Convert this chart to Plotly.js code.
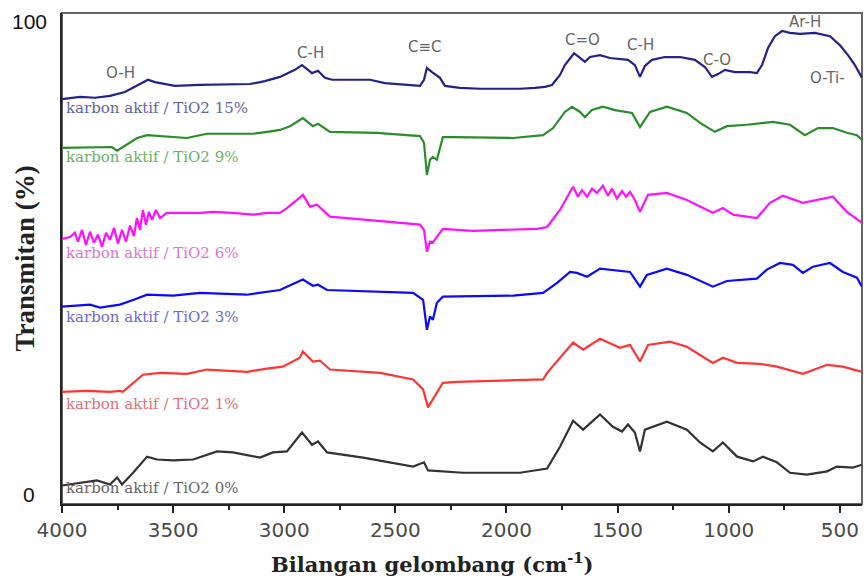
<!DOCTYPE html>
<html>
<head>
<meta charset="utf-8">
<script src="https://cdn.plot.ly/plotly-3.0.1.min.js"></script>
<style>html,body{margin:0;padding:0;background:#fff;}#chart{width:864px;height:581px;}</style>
</head>
<body>
<div id="chart"></div>
<script>
// Wavenumbers (cm-1) and stacked transmittance values
const wn15 = [4000,3919,3852,3784,3717,3649,3613,3582,3537,3492,3379,3244,3154,3087,3019,2952,2920,2893,2875,2848,2817,2785,2614,2547,2389,2371,2358,2335,2299,2277,2209,2119,1939,1872,1827,1795,1759,1737,1714,1696,1669,1647,1624,1579,1534,1489,1453,1422,1399,1377,1345,1287,1219,1152,1107,1075,1048,1017,972,904,873,850,823,792,760,724,679,612,544,499,463,432,400];
const t15 = [83.5,84.0,83.8,84.2,85.0,86.7,87.6,87.1,86.7,86.3,86.5,86.7,86.7,87.3,88.2,89.7,90.7,89.7,89.0,89.5,88.0,87.6,87.6,86.9,86.3,87.6,90.1,89.2,88.0,86.3,85.9,85.7,85.7,85.9,86.1,86.5,88.6,90.7,92.2,93.2,92.2,91.4,92.4,92.8,92.2,92.0,91.8,90.7,88.2,90.5,91.8,92.4,92.4,91.8,90.3,88.2,88.8,89.7,89.2,89.2,89.0,90.7,94.3,96.8,97.9,97.5,97.3,97.5,96.8,94.9,92.8,90.7,88.0];

const wn9 = [4000,3829,3775,3752,3725,3662,3617,3559,3438,3348,3141,3078,3019,2974,2916,2871,2848,2794,2583,2389,2371,2358,2344,2331,2313,2286,2241,1970,1835,1790,1737,1705,1669,1647,1615,1566,1512,1435,1399,1354,1278,1188,1129,1062,1008,918,801,724,657,598,531,468,423,400];
const t9 = [73.2,73.4,73.4,72.6,73.4,75.3,75.9,75.7,75.3,76.2,76.2,76.6,77.0,77.8,79.5,77.8,78.3,76.6,76.4,75.7,74.3,67.5,70.7,71.3,70.7,75.5,75.5,75.3,75.9,77.4,80.8,81.9,80.8,79.7,81.2,81.9,81.2,80.6,77.6,80.8,81.9,80.6,78.5,76.6,77.8,78.1,78.7,78.1,75.9,77.4,77.4,76.4,75.9,74.9];

const wn6 = [4000,3964,3942,3928,3910,3892,3874,3856,3838,3820,3802,3784,3766,3748,3730,3712,3694,3676,3663,3649,3636,3622,3609,3595,3577,3559,3528,3379,3321,3231,3141,3078,3019,2988,2930,2916,2884,2853,2794,2389,2371,2358,2344,2331,2313,2286,2150,1862,1817,1759,1714,1700,1678,1660,1637,1615,1593,1566,1543,1525,1503,1480,1462,1444,1422,1399,1363,1278,1188,1071,1026,980,873,814,756,666,531,468,400];
const t6 = [54.0,54.4,55.3,53.4,55.9,52.7,55.5,53.2,54.9,52.3,55.3,53.8,56.3,53.0,55.9,53.4,56.8,54.6,58.4,55.9,60.1,57.0,59.7,58.0,60.1,58.4,59.5,59.5,59.7,59.5,59.1,59.5,59.5,60.5,62.7,63.3,60.8,61.2,58.7,57.0,55.9,51.3,53.4,53.2,54.4,56.1,55.7,56.1,56.5,60.1,63.9,65.0,62.9,64.3,62.9,64.6,63.7,65.2,63.1,64.6,62.5,64.1,62.9,63.9,62.2,59.7,63.3,63.7,62.2,59.5,60.5,59.1,58.4,61.6,63.1,61.6,62.9,59.7,57.4];

const wn3 = [4000,3874,3829,3740,3680,3617,3500,3379,3168,3078,3019,2988,2916,2871,2848,2807,2420,2375,2358,2344,2331,2313,2286,1970,1835,1772,1714,1683,1637,1579,1444,1399,1368,1278,1188,1071,1008,873,828,769,711,666,621,544,486,423,400];
const t3 = [39.7,40.1,39.5,40.1,41.1,42.2,42.0,42.6,42.2,42.8,43.2,43.9,45.4,44.1,44.3,43.2,42.6,41.1,34.8,37.6,36.9,40.5,41.8,42.0,42.6,44.7,47.0,46.8,46.0,47.7,47.0,43.9,46.4,47.7,46.4,43.9,45.1,45.6,47.5,48.9,48.5,46.8,48.1,48.9,47.0,45.8,43.9];

const wn1 = [4000,3891,3784,3740,3726,3636,3559,3438,3348,3168,3078,3006,2930,2916,2871,2840,2794,2569,2420,2375,2353,2313,2286,2223,1970,1835,1817,1759,1700,1655,1579,1489,1444,1399,1363,1264,1188,1071,1026,962,860,783,666,557,486,400];
const t1 = [21.7,21.9,21.7,21.9,21.7,25.3,25.7,25.5,26.4,25.9,26.6,27.0,28.9,30.2,28.1,28.3,26.4,25.7,24.3,22.2,18.4,21.5,23.6,23.8,24.1,24.3,25.7,28.9,32.1,30.6,32.9,31.0,31.6,28.1,31.6,32.3,31.2,27.8,28.9,27.8,27.6,27.0,25.5,27.4,27.0,25.9];

const wn0 = [4000,3843,3784,3752,3730,3680,3617,3572,3500,3410,3302,3231,3109,3051,2988,2930,2920,2875,2848,2807,2645,2420,2371,2353,2196,1939,1817,1759,1700,1655,1579,1521,1480,1453,1422,1399,1377,1278,1188,1129,1071,1026,962,890,846,783,724,648,557,513,441,400];
const t0 = [1.9,3.0,2.1,3.6,2.1,4.6,8.0,7.4,7.2,7.4,9.1,8.9,7.8,8.9,9.1,12.7,13.1,10.5,11.2,8.9,7.8,5.9,6.8,5.1,4.6,4.6,5.5,10.1,15.6,13.7,16.9,14.3,13.3,14.8,13.1,9.1,13.7,15.4,13.7,11.0,9.1,11.0,8.0,7.0,8.0,6.8,4.6,4.2,4.9,5.9,5.7,6.3];

const seriesNames = ["karbon aktif / TiO2 15%","karbon aktif / TiO2 9%","karbon aktif / TiO2 6%","karbon aktif / TiO2 3%","karbon aktif / TiO2 1%","karbon aktif / TiO2 0%"];
const labelY = [81.6, 71.3, 51.1, 37.6, 19.2, 1.3];
const lineColors = ["#22228c","#2a8c2a","#ff10ff","#0a0aff","#ff3535","#333333"];
const labelColors = ["#6464a4","#66b266","#d878cc","#6a6ad8","#e07078","#666666"];

const peakLabels = ["O-H","C-H","C\u2261C","C=O","C-H","C-O","Ar-H","O-Ti-"];
const peakX = [3739,2884,2366,1660,1399,1052,657,643];
const peakY = [89.0,93.2,94.5,96.0,94.9,91.8,99.8,88.0];

const xs = [wn15, wn9, wn6, wn3, wn1, wn0];
const ys = [t15, t9, t6, t3, t1, t0];

const traces = xs.map((x, i) => ({
  type: 'scatter', mode: 'lines', x: x, y: ys[i], name: seriesNames[i],
  line: {color: lineColors[i], width: 2.2}, hoverinfo: 'skip'
}));

const annotations = [];
seriesNames.forEach((s, i) => annotations.push({
  text: s, xref: 'paper', x: 0.003, y: labelY[i], yref: 'y', xanchor: 'left', yanchor: 'middle',
  showarrow: false, font: {family: 'DejaVu Serif, serif', size: 15, color: labelColors[i]}
}));
peakLabels.forEach((p, i) => annotations.push({
  text: p, x: peakX[i], y: peakY[i], xref: 'x', yref: 'y', xanchor: i === 7 ? 'left' : 'center', yanchor: 'middle',
  showarrow: false, font: {family: 'DejaVu Sans, sans-serif', size: 15, color: '#666'}
}));
annotations.push({text: '100', xref: 'paper', x: -0.041, y: 100, yref: 'y', xanchor: 'center', yanchor: 'middle', showarrow: false, font: {family: 'Liberation Sans, Arial, sans-serif', size: 21, color: '#111'}});
annotations.push({text: '0', xref: 'paper', x: -0.041, y: 0, yref: 'y', xanchor: 'center', yanchor: 'middle', showarrow: false, font: {family: 'Liberation Sans, Arial, sans-serif', size: 21, color: '#111'}});
annotations.push({text: 'Bilangan gelombang (cm<sup>-1</sup>)', xref: 'paper', yref: 'paper', x: 0.4625, y: -0.12, xanchor: 'center', yanchor: 'middle', showarrow: false,
  font: {family: 'DejaVu Serif, serif', size: 21, color: '#222', weight: 'bold'}});

const layout = {
  width: 864, height: 581,
  margin: {l: 62, r: 2, t: 13, b: 77},
  paper_bgcolor: '#fff', plot_bgcolor: '#fff',
  showlegend: false,
  xaxis: {
    range: [4000, 400], autorange: false,
    tickmode: 'array', tickvals: [4000,3500,3000,2500,2000,1500,1000,500],
    ticks: 'outside', ticklen: 7, tickwidth: 2, tickcolor: '#222',
    minor: {tickmode: 'array', tickvals: [3750,3250,2750,2250,1750,1250,750], ticks: 'outside', ticklen: 4, tickwidth: 2, tickcolor: '#222'},
    showgrid: false, zeroline: false,
    showline: true, linecolor: '#222', linewidth: 2,
    tickfont: {family: 'DejaVu Sans, sans-serif', size: 20, color: '#4a4a4a'}
  },
  yaxis: {
    range: [-2, 101.7], autorange: false,
    showticklabels: false, ticks: '', showgrid: false, zeroline: false,
    showline: true, linecolor: '#222', linewidth: 2,
    title: {text: 'Transmitan (%)', standoff: 18,
      font: {family: 'Liberation Serif, Times New Roman, serif', size: 27, color: '#222', weight: 'bold'}}
  },
  shapes: [{type: 'rect', xref: 'paper', yref: 'paper', x0: 0, x1: 1, y0: 0, y1: 1, line: {color: '#666', width: 2}, layer: 'below'}],
  annotations: annotations
};

Plotly.newPlot('chart', traces, layout, {displayModeBar: false, staticPlot: true});
</script>
</body>
</html>
